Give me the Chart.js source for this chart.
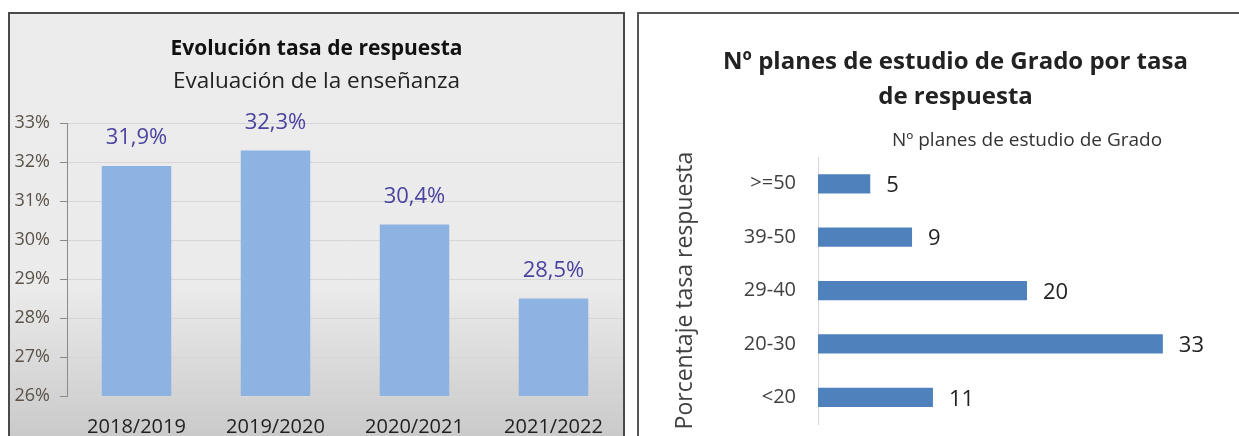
<!DOCTYPE html>
<html>
<head>
<meta charset="utf-8">
<script src="https://cdn.jsdelivr.net/npm/chart.js@4"></script>
<style>
  html, body { margin: 0; padding: 0; width: 1239px; height: 436px; overflow: hidden; background: #fff; }
  #left {
    position: absolute; left: 8px; top: 12px; width: 613px; height: 440px;
    border: 2px solid #4a4a4a; border-bottom: none;
    background: linear-gradient(to bottom, #ececec 0%, #ebebeb 62%, #c6c6c6 100%);
  }
  #right {
    position: absolute; left: 637px; top: 12px; width: 620px; height: 440px;
    border-top: 2px solid #555; border-left: 2px solid #555; background: #fff;
  }
  canvas { display: block; }
</style>
</head>
<body>
<div id="left"><canvas id="rateChart" width="613" height="422"></canvas></div>
<div id="right"><canvas id="plansChart" width="600" height="422"></canvas></div>
<script>
// datos
const years = ['2018/2019', '2019/2020', '2020/2021', '2021/2022'];
const responseRates = [31.9, 32.3, 30.4, 28.5];
const rateTicks = [26, 27, 28, 29, 30, 31, 32, 33];

const rateBands = ['>=50', '39-50', '29-40', '20-30', '<20'];
const planCounts = [5, 9, 20, 33, 11];

const FONT = '"Open Sans", Lato, sans-serif';

// etiquetas de valor encima / al lado de las barras
const valueLabels = {
  id: 'valueLabels',
  afterDatasetsDraw(chart, args, opts) {
    const ctx = chart.ctx;
    const meta = chart.getDatasetMeta(0);
    ctx.save();
    ctx.font = opts.font;
    ctx.fillStyle = opts.color;
    meta.data.forEach((bar, i) => {
      const v = chart.data.datasets[0].data[i];
      const txt = opts.format(v);
      if (opts.horizontal) {
        ctx.textAlign = 'left';
        ctx.textBaseline = 'middle';
        ctx.fillText(txt, bar.x + opts.offset, bar.y + 2);
      } else {
        ctx.textAlign = 'center';
        ctx.textBaseline = 'middle';
        ctx.fillText(txt, bar.x, bar.y - opts.offset);
      }
    });
    ctx.restore();
  }
};

new Chart(document.getElementById('rateChart').getContext('2d'), {
  type: 'bar',
  data: {
    labels: years,
    datasets: [{
      data: responseRates,
      backgroundColor: '#8db3e2',
      categoryPercentage: 1,
      barPercentage: 0.5
    }]
  },
  options: {
    responsive: false,
    animation: false,
    layout: { padding: 0 },
    plugins: {
      legend: { display: false },
      tooltip: { enabled: false },
      title: {
        display: true,
        text: 'Evolución tasa de respuesta',
        color: '#111',
        font: { family: FONT, size: 21, weight: 'bold' },
        padding: { top: 22, bottom: 7 }
      },
      subtitle: {
        display: true,
        text: 'Evaluación de la enseñanza',
        color: '#222',
        font: { family: FONT, size: 22.5 },
        padding: { top: 0, bottom: 28 }
      },
      valueLabels: {
        font: '22px ' + FONT,
        color: '#4a43a0',
        offset: 28,
        format: v => v.toFixed(1).replace('.', ',') + '%'
      }
    },
    scales: {
      x: {
        grid: { display: false, drawTicks: false },
        border: { display: false },
        ticks: { color: '#1f1f1f', font: { family: FONT, size: 20 }, padding: 19 },
        afterFit: s => { s.height = 40; }
      },
      y: {
        min: 26,
        max: 33,
        afterBuildTicks: s => { s.ticks = rateTicks.map(v => ({ value: v })); },
        ticks: {
          color: '#5a5248',
          font: { family: FONT, size: 18 },
          padding: 10,
          callback: v => v + '%'
        },
        grid: { color: '#d6d6d6', tickColor: '#8a8a8a', tickLength: 7 },
        border: { color: '#8a8a8a' },
        afterFit: s => { s.width = 57; }
      }
    }
  },
  plugins: [valueLabels]
});

new Chart(document.getElementById('plansChart').getContext('2d'), {
  type: 'bar',
  data: {
    labels: rateBands,
    datasets: [{
      data: planCounts,
      backgroundColor: '#4f81bd',
      categoryPercentage: 1,
      barPercentage: 0.36
    }]
  },
  options: {
    indexAxis: 'y',
    responsive: false,
    animation: false,
    layout: { padding: { left: 36, right: 3, bottom: 12 } },
    plugins: {
      legend: { display: false },
      tooltip: { enabled: false },
      title: {
        display: true,
        text: ['Nº planes de estudio de Grado por tasa', 'de respuesta'],
        color: '#222',
        font: { family: FONT, size: 24, weight: 'bold', lineHeight: 1.46 },
        padding: { top: 31, bottom: 12 }
      },
      valueLabels: {
        horizontal: true,
        font: '22px ' + FONT,
        color: '#222',
        offset: 16,
        format: v => String(v)
      }
    },
    scales: {
      x: {
        position: 'top',
        min: 0,
        max: 40,
        ticks: { display: false },
        grid: { display: false, drawTicks: false },
        border: { display: false },
        title: {
          display: true,
          text: 'Nº planes de estudio de Grado',
          color: '#333',
          font: { family: FONT, size: 19 },
          padding: { top: 2, bottom: 6 }
        },
        afterFit: s => { s.height = 30; }
      },
      y: {
        grid: { display: false, drawTicks: false },
        border: { color: '#d9d9d9' },
        ticks: { color: '#404040', font: { family: FONT, size: 20 }, padding: 22 },
        title: {
          display: true,
          text: 'Porcentaje tasa respuesta',
          color: '#404040',
          font: { family: FONT, size: 23, lineHeight: 0.9 },
          padding: 0
        },
        afterFit: s => { s.width = 143; s.paddingTop = 0; s.paddingBottom = 0; }
      }
    }
  },
  plugins: [valueLabels]
});
</script>
</body>
</html>
